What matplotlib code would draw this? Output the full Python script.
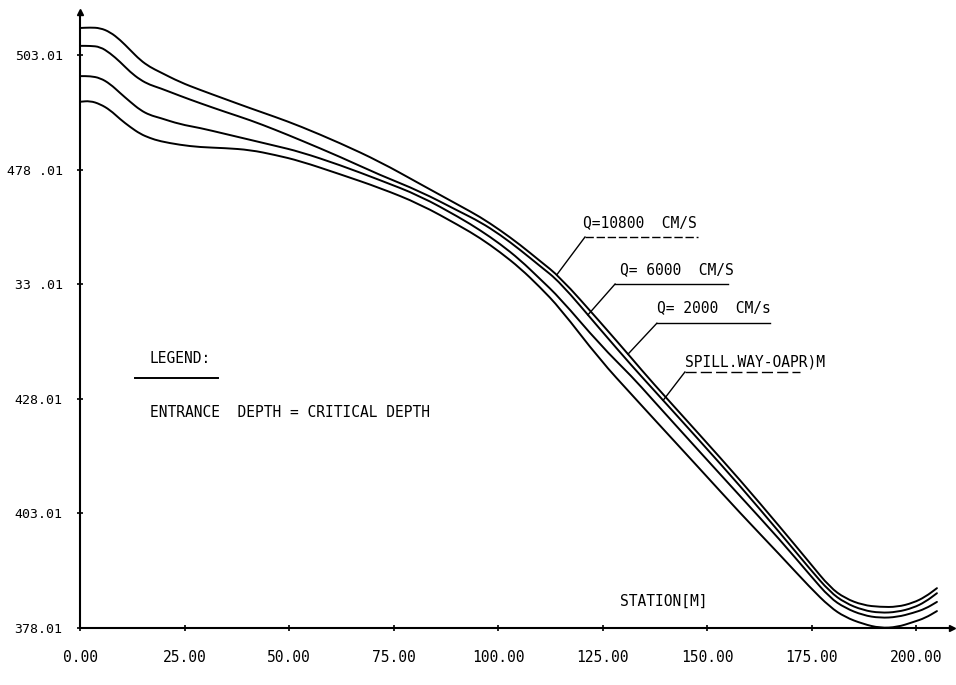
import numpy as np
import matplotlib
matplotlib.use('Agg')
import matplotlib.pyplot as plt
from matplotlib.path import Path
from matplotlib.patches import PathPatch

# station [m] shared by all four profiles
station = [0.0, 2.4, 4.8, 7.2, 9.6, 12.0, 14.4, 16.7, 19.1, 23.9,
           28.7, 34.7, 40.7, 46.7, 52.6, 62.2, 71.8, 81.3, 90.9, 95.7,
           100.5, 105.3, 110.0, 114.8, 124.4, 132.3, 136.4, 148.3, 157.9, 167.5,
           174.6, 179.4, 183.0, 187.3, 191.4, 195.5, 199.3, 202.2, 205.0]

# water surface elevations
q10800 = [508.9, 509.0, 508.9, 508.0, 506.3, 504.1, 501.9, 500.4, 499.3, 497.1,
          495.4, 493.4, 491.4, 489.5, 487.5, 483.8, 479.7, 474.9, 470.1, 467.7,
          464.8, 461.6, 458.1, 454.6, 444.8, 436.5, 432.1, 420.1, 410.3, 400.0,
          392.2, 386.9, 384.5, 383.0, 382.6, 382.6, 383.5, 384.8, 386.7]
q6000 = [505.0, 505.0, 504.8, 503.4, 501.5, 499.3, 497.6, 496.5, 495.8, 494.1,
         492.5, 490.6, 488.8, 486.7, 484.5, 480.8, 476.8, 473.3, 468.8, 466.6,
         463.8, 460.5, 457.0, 453.5, 443.2, 434.9, 430.8, 418.8, 409.0, 398.7,
         390.9, 385.9, 383.5, 381.9, 381.3, 381.5, 382.4, 383.7, 385.6]
q2000 = [498.4, 498.4, 498.0, 496.7, 494.7, 492.8, 491.0, 489.9, 489.3, 487.9,
         487.1, 485.8, 484.5, 483.2, 481.9, 479.0, 475.7, 472.3, 467.5, 464.8,
         461.8, 458.3, 454.2, 450.0, 439.8, 432.6, 428.4, 416.4, 406.8, 397.2,
         389.6, 384.6, 382.4, 380.8, 380.2, 380.4, 381.3, 382.2, 383.7]
# spillway floor
spillway = [492.8, 493.0, 492.3, 491.0, 489.0, 487.3, 485.8, 484.9, 484.2, 483.4,
            482.9, 482.7, 482.3, 481.2, 479.9, 477.0, 474.0, 470.5, 465.7, 463.1,
            460.0, 456.5, 452.4, 447.8, 436.5, 428.6, 424.5, 412.7, 403.1, 393.9,
            386.9, 382.6, 380.4, 378.9, 378.0, 378.2, 379.3, 380.2, 381.7]

xticks = [0, 25, 50, 75, 100, 125, 150, 175, 200]
xlabels = ['0.00', '25.00', '50.00', '75.00', '100.00', '125.00', '150.00', '175.00', '200.00']
yticks = [378.01, 403.01, 428.01, 453.01, 478.01, 503.01]
ylabels = ['378.01', '403.01', '428.01', '33 .01', '478 .01', '503.01']

FONT = 'DejaVu Sans Mono'
plt.rcParams['font.family'] = [FONT]


def smooth_path(x, y):
    '''Quadratic bezier through the midpoints, data points as controls.'''
    pts = np.column_stack([x, y])
    mids = (pts[:-1] + pts[1:]) / 2
    verts = [pts[0], mids[0]]
    codes = [Path.MOVETO, Path.LINETO]
    for i in range(1, len(pts) - 1):
        verts += [pts[i], mids[i]]
        codes += [Path.CURVE3, Path.CURVE3]
    verts.append(pts[-1])
    codes.append(Path.LINETO)
    return Path(verts, codes)


fig = plt.figure(figsize=(9.56, 6.85), dpi=100)
ax = fig.add_axes([0.0837, 0.0832, 0.9121, 0.8993])

for elev in (q10800, q6000, q2000, spillway):
    ax.add_patch(PathPatch(smooth_path(station, elev), facecolor='none',
                           edgecolor='black', lw=1.4, capstyle='round'))

ax.set_xlim(0, 208.6)
ax.set_ylim(378.01, 512.39)

for s in ('top', 'right'):
    ax.spines[s].set_visible(False)
for s in ('left', 'bottom'):
    ax.spines[s].set_linewidth(1.5)

# arrow heads on the axes
ax.plot(0, 1, marker='^', color='black', markersize=4, transform=ax.transAxes, clip_on=False)
ax.plot(1, 0, marker='>', color='black', markersize=4, transform=ax.transAxes, clip_on=False)

ax.set_xticks(xticks)
ax.set_xticklabels(xlabels, fontsize=10.5)
ax.set_yticks(yticks)
ax.set_yticklabels(ylabels, fontsize=9.5)
ax.tick_params(axis='x', direction='inout', length=5, width=1.2, pad=13)
ax.tick_params(axis='y', direction='inout', length=5, width=1.2, pad=10)

# legend block
ax.text(16.7, 436.9, 'LEGEND:', fontsize=10.5, va='center', ha='left')
ax.plot([13.2, 33.0], [432.5, 432.5], color='black', lw=1.4)
ax.text(16.7, 425.1, 'ENTRANCE  DEPTH = CRITICAL DEPTH', fontsize=10.5, va='center', ha='left')
ax.text(129.2, 383.9, 'STATION[M]', fontsize=10.5, va='center', ha='left')

# leader labels: text, underline (x0, x1, y), target station, target curve, style
labels = [
    ('Q=10800  CM/S', 120.3, 466.4, 120.8, 147.8, 463.3, 114.1, q10800, (0, (6, 2))),
    ('Q= 6000  CM/S', 129.2, 456.1, 128.0, 155.0, 453.05, 121.5, q6000, '-'),
    ('Q= 2000  CM/s', 138.0, 447.8, 138.0, 165.1, 444.5, 131.1, q10800, '-'),
    ('SPILL.WAY-OAPR)M', 144.7, 436.0, 144.7, 172.2, 433.85, 139.5, q6000, (0, (8, 3))),
]
for txt, tx, ty, x0, x1, uy, st, curve, ls in labels:
    ax.text(tx, ty, txt, fontsize=10.5, va='center', ha='left')
    ax.plot([x0, x1], [uy, uy], color='black', lw=1.0, linestyle=ls)
    ax.plot([x0, st], [uy, np.interp(st, station, curve)], color='black', lw=1.0)

fig.savefig('out.png', dpi=100)
